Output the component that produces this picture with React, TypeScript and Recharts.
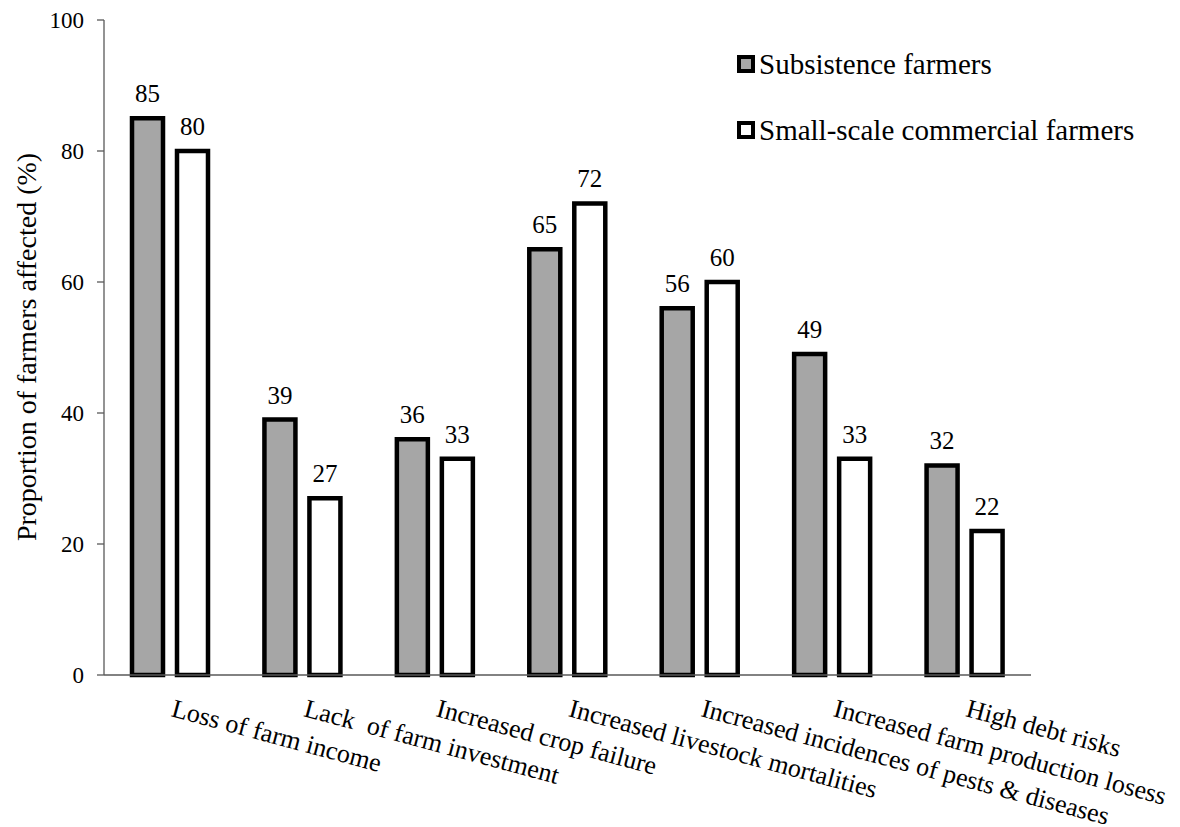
import React from 'react';
import { BarChart, Bar, XAxis, YAxis, LabelList } from 'recharts';

const categories = [
  'Loss of farm income',
  'Lack  of farm investment',
  'Increased crop failure',
  'Increased livestock mortalities',
  'Increased incidences of pests & diseases',
  'Increased farm production losess',
  'High debt risks',
];
const subsistence = [85, 39, 36, 65, 56, 49, 32];
const commercial = [80, 27, 33, 72, 60, 33, 22];
const yTicks = [0, 20, 40, 60, 80, 100];
const seriesNames = ['Subsistence farmers', 'Small-scale commercial farmers'];
const yLabel = 'Proportion of farmers affected (%)';

const data = categories.map((c, i) => ({
  category: c,
  subsistence: subsistence[i],
  commercial: commercial[i],
}));

const FONT = "'Liberation Serif', 'Times New Roman', Tinos, serif";
const GRAY = '#a6a6a6';
const AXIS = '#595959';

const CategoryTick = (props: any) => {
  const { x, y, payload } = props;
  const ty = y + 41;
  return (
    <text
      x={x}
      y={ty}
      transform={`rotate(15, ${x}, ${ty})`}
      textAnchor="start"
      fontSize={26}
      fill="#000"
      xmlSpace="preserve"
      style={{ whiteSpace: 'pre', fontFamily: FONT }}
    >
      {payload.value}
    </text>
  );
};

const YLabel = () => (
  <text
    x={36}
    y={347}
    transform="rotate(-90, 36, 347)"
    textAnchor="middle"
    fontSize={28}
    fill="#000"
    style={{ fontFamily: FONT }}
  >
    {yLabel}
  </text>
);

const LegendBox = () => (
  <div
    style={{
      position: 'absolute',
      left: 737,
      top: 44,
      fontFamily: FONT,
      fontSize: 29,
      color: '#000',
    }}
  >
    {seriesNames.map((n, i) => (
      <div key={n} style={{ display: 'flex', alignItems: 'center', height: 40, marginBottom: i === 0 ? 26 : 0 }}>
        <div
          style={{
            width: 18,
            height: 18,
            boxSizing: 'border-box',
            border: '4px solid #000',
            background: i === 0 ? GRAY : '#fff',
            marginRight: 4,
          }}
        />
        <span style={{ whiteSpace: 'nowrap' }}>{n}</span>
      </div>
    ))}
  </div>
);

export default function App() {
  return (
    <div style={{ position: 'absolute', left: 0, top: 0, width: 1180, height: 827, background: '#fff', fontFamily: FONT }}>
      <BarChart
        width={1180}
        height={827}
        data={data}
        margin={{ top: 20, right: 149, bottom: 0, left: 0 }}
        barSize={31}
        barGap={14}
      >
        <XAxis
          dataKey="category"
          height={152}
          interval={0}
          tickLine={false}
          tickSize={0}
          tickMargin={0}
          axisLine={{ stroke: AXIS, strokeWidth: 1.3 }}
          tick={<CategoryTick />}
        />
        <YAxis
          width={104}
          domain={[0, 100]}
          ticks={yTicks}
          interval={0}
          tickSize={7}
          tickMargin={13}
          axisLine={{ stroke: AXIS, strokeWidth: 1.3 }}
          tickLine={{ stroke: AXIS, strokeWidth: 1.3 }}
          tick={{ fontSize: 23, fill: '#000', fontFamily: FONT }}
          label={<YLabel />}
        />
        <Bar dataKey="subsistence" fill={GRAY} stroke="#000" strokeWidth={4.5} isAnimationActive={false}>
          <LabelList dataKey="subsistence" position="top" offset={16} style={{ fontSize: 25, fontFamily: FONT, fill: '#000' }} />
        </Bar>
        <Bar dataKey="commercial" fill="#fff" stroke="#000" strokeWidth={4.5} isAnimationActive={false}>
          <LabelList dataKey="commercial" position="top" offset={16} style={{ fontSize: 25, fontFamily: FONT, fill: '#000' }} />
        </Bar>
      </BarChart>
      <LegendBox />
    </div>
  );
}
